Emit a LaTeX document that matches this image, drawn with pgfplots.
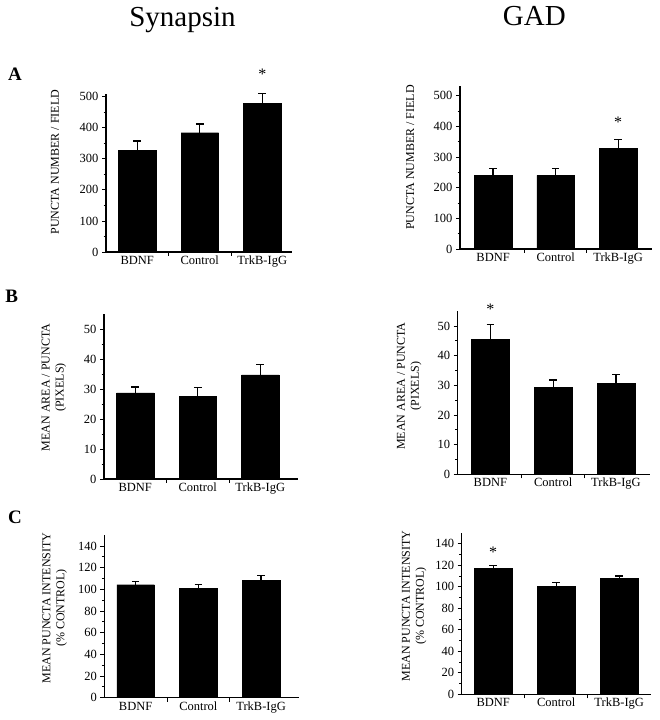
\documentclass[border=0pt]{standalone}
\usepackage{fontspec}
\setmainfont{Liberation Serif}
\usepackage{pgfplots}
\pgfplotsset{compat=1.18}
\pgfplotsset{
  panel/.style={
    scale only axis,
    anchor=south west,
    axis lines=left,
    axis line style={-, line width=1.1pt, black},
    ybar, bar width=0.6,
    ymin=0,
    xtick={0.5,1.5},
    xticklabels={,},
    extra x ticks={0,1,2},
    extra x tick labels={BDNF,Control,TrkB-IgG},
    extra x tick style={major tick length=0pt},
    tick align=outside,
    major tick length=4pt,
    minor tick length=2.5pt,
    minor y tick num=1,
    tick style={black, line width=0.8pt},
    tick label style={font=\fontsize{12.5}{14}\selectfont},
    xticklabel style={text height=9pt, text depth=2.5pt},
    /pgf/number format/assume math mode=true,
    ylabel style={font=\fontsize{12}{14}\selectfont, align=center, anchor=center},
    clip=false,
    scaled y ticks=false,
  },
  barstyle/.style={fill=black, draw=black,
    error bars/.cd, y dir=plus, y explicit,
    error bar style={line width=1.3pt, black},
    error mark options={rotate=90, line width=1.3pt, mark size=3.8pt, black}},
}
\begin{document}
\begin{tikzpicture}
\path[use as bounding box] (0pt,0pt) rectangle (659pt,720pt);
% titles
\node[anchor=base, font=\fontsize{29}{32}\selectfont] at (182.5pt,693pt) {Synapsin};
\node[anchor=base, font=\fontsize{29}{32}\selectfont] at (534.3pt,694pt) {GAD};
\node[anchor=base, font=\fontsize{19}{20}\selectfont\bfseries] at (15pt,639pt) {A};
\node[anchor=base, font=\fontsize{19}{20}\selectfont\bfseries] at (11.7pt,417pt) {B};
\node[anchor=base, font=\fontsize{19}{20}\selectfont\bfseries] at (15pt,196pt) {C};

% A left
\begin{axis}[panel, at={(106pt,468pt)}, width=186.25pt, height=158.4pt,
  xmin=-0.5, xmax=2.48, ymax=510, ytick={0,100,...,500},
  ylabel={PUNCTA NUMBER / FIELD},
  ylabel style={at={(axis description cs:-0.274,0.568)}}]
\addplot[barstyle] coordinates {(0,328) +- (0,29) (1,384) +- (0,28) (2,479) +- (0,32)};
\node[font=\fontsize{16}{16}\selectfont] at (axis cs:2,571) {*};
\end{axis}

% A right
\begin{axis}[panel, at={(460pt,471pt)}, width=191.9pt, height=162.5pt,
  xmin=-0.53, xmax=2.54, ymax=530, ytick={0,100,...,500},
  ylabel={PUNCTA NUMBER / FIELD},
  ylabel style={at={(axis description cs:-0.26,0.563)}}]
\addplot[barstyle] coordinates {(0,240) +- (0,22) (1,240) +- (0,22) (2,329) +- (0,29)};
\node[font=\fontsize{16}{16}\selectfont] at (axis cs:2,412) {*};
\end{axis}

% B left
\begin{axis}[panel, at={(104pt,241pt)}, width=193.75pt, height=164.7pt,
  xmin=-0.5, xmax=2.6, ymax=55, ytick={0,10,...,50},
  ylabel={MEAN AREA / PUNCTA\\(PIXELS)},
  ylabel style={at={(axis description cs:-0.258,0.556)}}]
\addplot[barstyle] coordinates {(0,28.8) +- (0,1.9) (1,27.6) +- (0,3.0) (2,34.8) +- (0,3.4)};
\end{axis}

% B right
\begin{axis}[panel, at={(457.7pt,245.7pt)}, width=192.2pt, height=163.1pt,
  xmin=-0.52, xmax=2.54, ymax=55, ytick={0,10,...,50},
  ylabel={MEAN AREA / PUNCTA\\(PIXELS)},
  ylabel style={at={(axis description cs:-0.252,0.541)}}]
\addplot[barstyle] coordinates {(0,45.6) +- (0,4.8) (1,29.3) +- (0,2.5) (2,30.7) +- (0,3.0)};
\node[font=\fontsize{16}{16}\selectfont] at (axis cs:0,55.6) {*};
\end{axis}

% C left
\begin{axis}[panel, at={(104.3pt,22.3pt)}, width=194.4pt, height=162.5pt,
  xmin=-0.5, xmax=2.6, ymax=150, ytick={0,20,...,140},
  ylabel={MEAN PUNCTA INTENSITY\\(\% CONTROL)},
  ylabel style={at={(axis description cs:-0.255,0.552)}}]
\addplot[barstyle] coordinates {(0,104.3) +- (0,3.1) (1,101) +- (0,3.3) (2,108.6) +- (0,4.4)};
\end{axis}

% C right
\begin{axis}[panel, at={(461.7pt,25.7pt)}, width=189pt, height=161.4pt,
  xmin=-0.5, xmax=2.5, ymax=150, ytick={0,20,...,140},
  ylabel={MEAN PUNCTA INTENSITY\\(\% CONTROL)},
  ylabel style={at={(axis description cs:-0.252,0.547)}}]
\addplot[barstyle] coordinates {(0,117.1) +- (0,2.5) (1,100.4) +- (0,3.3) (2,107.5) +- (0,2.5)};
\node[font=\fontsize{16}{16}\selectfont] at (axis cs:0,132.4) {*};
\end{axis}
\end{tikzpicture}
\end{document}
